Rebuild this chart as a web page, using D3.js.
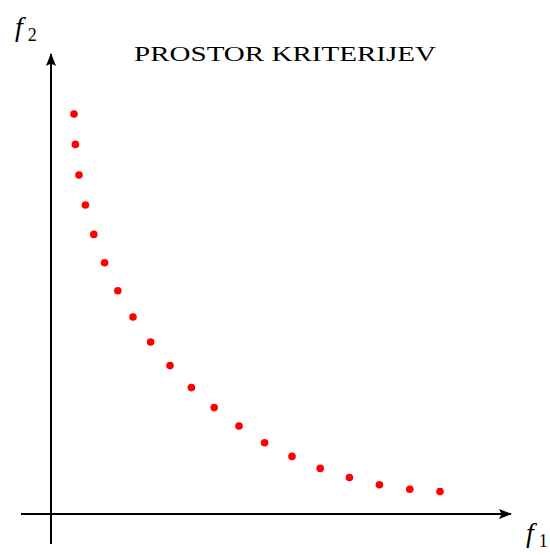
<!DOCTYPE html>
<html>
<head>
<meta charset="utf-8">
<script src="https://cdn.jsdelivr.net/npm/d3@7"></script>
<style>
  html, body { margin: 0; padding: 0; background: #fff; }
  svg { display: block; }
</style>
</head>
<body>
<script>
// Pareto front points in the criteria space (f1, f2)
const f1Values = [0.575, 0.61, 0.70, 0.86, 1.07, 1.34, 1.67, 2.05, 2.49, 2.975,
                  3.51, 4.08, 4.70, 5.34, 6.025, 6.73, 7.46, 8.21, 8.97, 9.725];
const f2Values = [10.0, 9.24, 8.475, 7.725, 6.99, 6.28, 5.58, 4.925, 4.30, 3.71,
                  3.16, 2.66, 2.20, 1.78, 1.44, 1.14, 0.91, 0.73, 0.62, 0.56];
const axisExtent = [-0.75, 11.5];
const titleText = "PROSTOR KRITERIJEV";
const xLabel = ["f", "1"];
const yLabel = ["f", "2"];

const width = 550, height = 555;

const x = d3.scaleLinear().domain([0, 11.5]).range([51, 511]);
const y = d3.scaleLinear().domain([0, 11.5]).range([514, 54]);

const svg = d3.select("body").append("svg")
  .attr("width", width)
  .attr("height", height);

// arrowhead marker for both axes
svg.append("defs").append("marker")
  .attr("id", "arrow")
  .attr("viewBox", "0 0 13 10")
  .attr("refX", 12)
  .attr("refY", 5)
  .attr("markerWidth", 13)
  .attr("markerHeight", 10)
  .attr("markerUnits", "userSpaceOnUse")
  .attr("orient", "auto")
  .append("path")
  .attr("d", "M0,0 L13,5 L0,10 L2.5,5 Z")
  .attr("fill", "#000");

// horizontal axis (f1)
svg.append("line")
  .attr("x1", x(axisExtent[0])).attr("y1", y(0))
  .attr("x2", x(axisExtent[1])).attr("y2", y(0))
  .attr("stroke", "#000").attr("stroke-width", 2)
  .attr("marker-end", "url(#arrow)");

// vertical axis (f2)
svg.append("line")
  .attr("x1", x(0)).attr("y1", y(axisExtent[0]))
  .attr("x2", x(0)).attr("y2", y(axisExtent[1]))
  .attr("stroke", "#000").attr("stroke-width", 2)
  .attr("marker-end", "url(#arrow)");

// points
const points = f1Values.map((v, i) => ({ f1: v, f2: f2Values[i] }));
svg.append("g").selectAll("circle")
  .data(points)
  .enter().append("circle")
  .attr("cx", d => x(d.f1))
  .attr("cy", d => y(d.f2))
  .attr("r", 3.8)
  .attr("fill", "#ff0000");

// title
svg.append("text")
  .attr("x", 285)
  .attr("y", 61)
  .attr("text-anchor", "middle")
  .attr("font-family", "'Liberation Serif', 'DejaVu Serif', serif")
  .attr("font-size", 22)
  .attr("textLength", 302)
  .attr("lengthAdjust", "spacingAndGlyphs")
  .attr("fill", "#000")
  .text(titleText);

// axis labels with subscripts
function axisLabel(px, py, parts) {
  const t = svg.append("text")
    .attr("x", px)
    .attr("y", py)
    .attr("font-family", "'Liberation Serif', 'DejaVu Serif', serif")
    .attr("fill", "#000");
  t.append("tspan")
    .attr("font-style", "italic")
    .attr("font-size", 28)
    .text(parts[0]);
  t.append("tspan")
    .attr("font-size", 18)
    .attr("dx", 5)
    .attr("dy", 5)
    .text(parts[1]);
}
axisLabel(15, 36, yLabel);
axisLabel(526, 542, xLabel);
</script>
</body>
</html>
